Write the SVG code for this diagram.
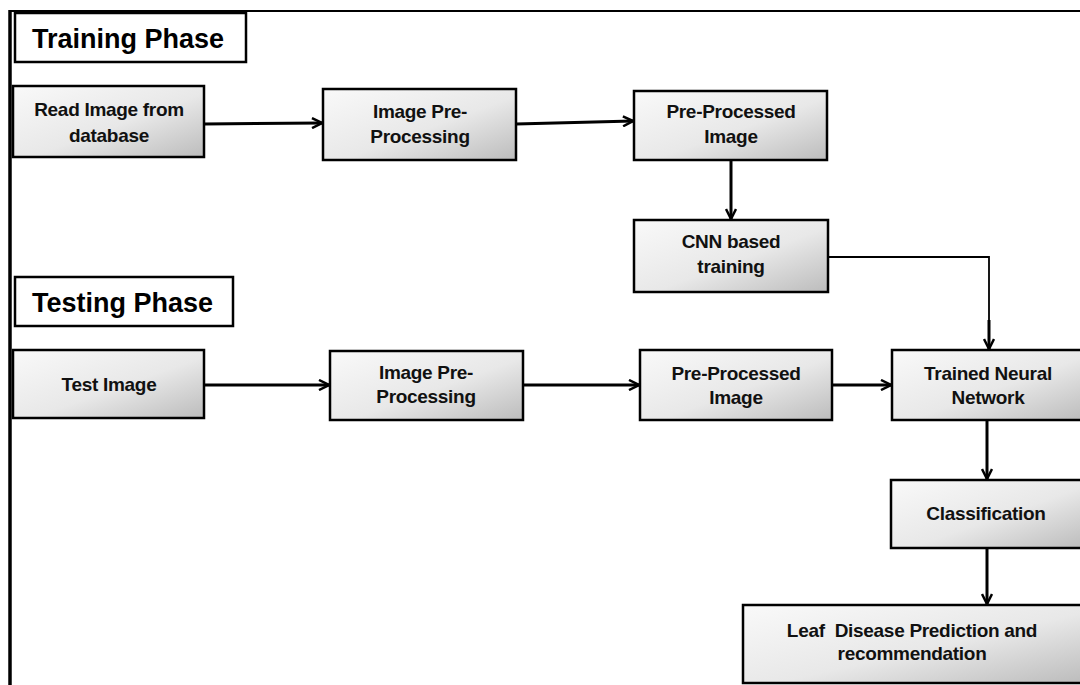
<svg xmlns="http://www.w3.org/2000/svg" width="1080" height="685" viewBox="0 0 1080 685">
<style>
.box{fill:url(#g);stroke:#000;stroke-width:2.5}
.hdr{fill:#fff;stroke:#000;stroke-width:2.5}
.t{font-family:"Liberation Sans",Arial,sans-serif;font-weight:bold;font-size:19px;fill:#111;text-anchor:middle;letter-spacing:-0.3px;white-space:pre}
.h{font-family:"Liberation Sans",Arial,sans-serif;font-weight:bold;font-size:27px;fill:#000}
.c{fill:none;stroke:#000;stroke-width:3}
.thin{fill:none;stroke:#000;stroke-width:1.8}
</style>
<defs>
<linearGradient id="g" x1="0" y1="0" x2="1" y2="1">
<stop offset="0" stop-color="#f9f9f9"/>
<stop offset="0.55" stop-color="#e8e8e8"/>
<stop offset="1" stop-color="#bcbcbc"/>
</linearGradient>
<marker id="a" viewBox="0 0 12 12" refX="11" refY="6" markerWidth="12" markerHeight="12" markerUnits="userSpaceOnUse" orient="auto">
<path d="M1,1 L11,6 L1,11" fill="none" stroke="#000" stroke-width="2.5"/>
</marker>
</defs>
<rect width="1080" height="685" fill="#fff"/>
<g id="frame">
<line x1="10" y1="11" x2="1080" y2="11" stroke="#000" stroke-width="2"/>
<line x1="10" y1="10" x2="10" y2="685" stroke="#000" stroke-width="3.5"/>
</g>
<g id="training-header"><rect class="hdr" x="15" y="13" width="231" height="49"/><text class="h" x="32" y="48">Training Phase</text></g>
<g id="testing-header"><rect class="hdr" x="15" y="277" width="218" height="49"/><text class="h" x="32" y="312">Testing Phase</text></g>
<g id="read-image"><rect class="box" x="13" y="86" width="191" height="71"/><text class="t" x="109" y="116">Read Image from</text><text class="t" x="109" y="142">database</text></g>
<g id="train-preprocessing"><rect class="box" x="323" y="89" width="193" height="71"/><text class="t" x="420" y="118">Image Pre-</text><text class="t" x="420" y="143">Processing</text></g>
<g id="train-preprocessed"><rect class="box" x="634" y="91" width="193" height="69"/><text class="t" x="731" y="118">Pre-Processed</text><text class="t" x="731" y="143">Image</text></g>
<g id="cnn-training"><rect class="box" x="634" y="220" width="194" height="72"/><text class="t" x="731" y="248">CNN based</text><text class="t" x="731" y="273">training</text></g>
<g id="test-image"><rect class="box" x="13" y="350" width="191" height="68"/><text class="t" x="109" y="391">Test Image</text></g>
<g id="test-preprocessing"><rect class="box" x="330" y="351" width="193" height="69"/><text class="t" x="426" y="379">Image Pre-</text><text class="t" x="426" y="403">Processing</text></g>
<g id="test-preprocessed"><rect class="box" x="640" y="350" width="192" height="70"/><text class="t" x="736" y="380">Pre-Processed</text><text class="t" x="736" y="404">Image</text></g>
<g id="trained-nn"><rect class="box" x="892" y="350" width="192" height="70"/><text class="t" x="988" y="380">Trained Neural</text><text class="t" x="988" y="404">Network</text></g>
<g id="classification"><rect class="box" x="891" y="480" width="193" height="68"/><text class="t" x="986" y="520">Classification</text></g>
<g id="leaf-disease"><rect class="box" x="743" y="605" width="341" height="78"/><text class="t" x="912" y="637">Leaf  Disease Prediction and</text><text class="t" x="912" y="660">recommendation</text></g>
<g id="connectors">
<line class="c" x1="204" y1="124" x2="322" y2="123" marker-end="url(#a)"/>
<line class="c" x1="516" y1="124" x2="633" y2="121" marker-end="url(#a)"/>
<line class="c" x1="731" y1="160" x2="731" y2="219" marker-end="url(#a)"/>
<polyline class="thin" points="828,257 989,257 989,336"/>
<line class="c" x1="989" y1="320" x2="989" y2="349" marker-end="url(#a)"/>
<line class="c" x1="204" y1="385" x2="329" y2="385" marker-end="url(#a)"/>
<line class="c" x1="523" y1="385" x2="639" y2="385" marker-end="url(#a)"/>
<line class="c" x1="832" y1="385" x2="891" y2="385" marker-end="url(#a)"/>
<line class="c" x1="987" y1="420" x2="987" y2="479" marker-end="url(#a)"/>
<line class="c" x1="987" y1="548" x2="987" y2="604" marker-end="url(#a)"/>
</g>
</svg>
